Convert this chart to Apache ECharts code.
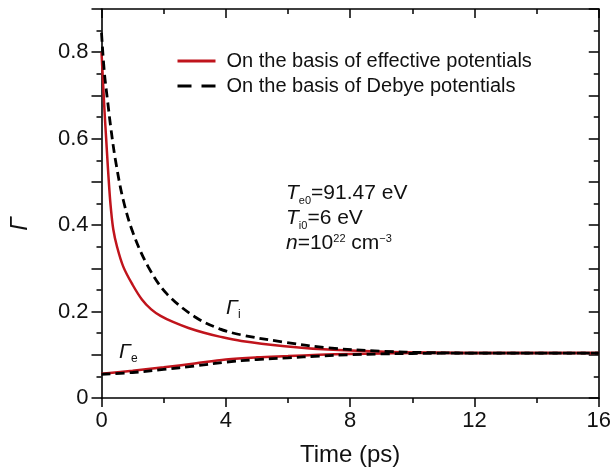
<!DOCTYPE html>
<html><head><meta charset="utf-8">
<script src="https://cdn.jsdelivr.net/npm/echarts@6/dist/echarts.min.js"></script>
<style>html,body{margin:0;padding:0;background:#fff}#c{width:614px;height:476px}</style>
</head><body><div id="c"></div>
<script>
const FONT = "'Liberation Sans', Arial, Helvetica, sans-serif";
const yTickLabels = ['0', '0.2', '0.4', '0.6', '0.8'];
const legendNames = ['On the basis of effective potentials', 'On the basis of Debye potentials'];

// Gamma_i, effective potentials (red)
const tEffI = [0, 0.05, 0.1, 0.15, 0.2, 0.25, 0.3, 0.38, 0.5, 0.7, 1.0, 1.3, 1.6, 1.9, 2.3, 2.8, 3.3, 3.8, 4.5, 5.9, 7.3, 9.1, 10.5, 12, 14, 16];
const gEffI = [0.80, 0.73, 0.66, 0.60, 0.54, 0.485, 0.44, 0.39, 0.35, 0.304, 0.262, 0.228, 0.205, 0.19, 0.176, 0.162, 0.151, 0.142, 0.132, 0.120, 0.112, 0.107, 0.105, 0.104, 0.104, 0.104];
// Gamma_i, Debye potentials (dashed)
const tDebI = [0, 0.09, 0.2, 0.3, 0.45, 0.7, 1.02, 1.5, 2.09, 3.0, 3.8, 4.5, 5.9, 7.3, 9.1, 10.5, 12, 14, 16];
const gDebI = [0.845, 0.755, 0.685, 0.625, 0.55, 0.458, 0.381, 0.304, 0.242, 0.188, 0.160, 0.146, 0.129, 0.116, 0.108, 0.105, 0.104, 0.104, 0.104];
// Gamma_e
const tE = [0, 1, 2, 3, 4, 5, 6, 7, 8, 9, 10, 12, 14, 16];
const gEffE = [0.056, 0.063, 0.071, 0.080, 0.089, 0.094, 0.097, 0.100, 0.102, 0.103, 0.104, 0.104, 0.104, 0.104];
const gDebE = [0.055, 0.059, 0.066, 0.074, 0.083, 0.089, 0.093, 0.097, 0.100, 0.102, 0.103, 0.104, 0.104, 0.104];

const zip = (a, b) => a.map((v, i) => [v, b[i]]);
const RED = '#c0141c';

const chart = echarts.init(document.getElementById('c'), null, {renderer: 'canvas'});
const axisLine = {show: true, onZero: false, lineStyle: {color: '#000', width: 1.6}};
const xCommon = {type: 'value', min: 0, max: 16, interval: 4, splitLine: {show: false}, axisLine: axisLine,
  minorTick: {show: true, splitNumber: 2, length: 5, lineStyle: {color: '#000', width: 1.5}}};
const yCommon = {type: 'value', min: 0, max: 0.9, interval: 0.1, splitLine: {show: false}, axisLine: axisLine,
  minorTick: {show: true, splitNumber: 2, length: 5, lineStyle: {color: '#000', width: 1.5}}};

const option = {
  animation: false,
  backgroundColor: '#fff',
  grid: {left: 101.5, right: 12.5, top: 9, bottom: 78, containLabel: false},
  xAxis: [
    Object.assign({}, xCommon, {position: 'bottom',
      axisTick: {show: true, inside: false, length: 9, lineStyle: {color: '#000', width: 1.5}},
      axisLabel: {show: true, color: '#111', fontSize: 22, fontFamily: FONT, margin: 12},
      name: 'Time (ps)', nameLocation: 'middle', nameGap: 45,
      nameTextStyle: {color: '#111', fontSize: 24, fontFamily: FONT}}),
    Object.assign({}, xCommon, {position: 'top',
      axisTick: {show: true, inside: true, length: 9, lineStyle: {color: '#000', width: 1.5}},
      axisLabel: {show: false}})
  ],
  yAxis: [
    Object.assign({}, yCommon, {position: 'left',
      axisTick: {show: true, inside: false, length: 10, lineStyle: {color: '#000', width: 1.5}},
      axisLabel: {show: true, color: '#111', fontSize: 22, fontFamily: FONT, margin: 13,
        formatter: v => { const r = Math.round(v * 10); return r % 2 === 0 ? (yTickLabels[r / 2] || '') : ''; }}}),
    Object.assign({}, yCommon, {position: 'right',
      axisTick: {show: true, inside: true, length: 10, lineStyle: {color: '#000', width: 1.5}},
      axisLabel: {show: false}})
  ],
  legend: {
    orient: 'vertical', left: 171, top: 46, itemWidth: 38, itemHeight: 14, itemGap: 5,
    textStyle: {color: '#111', fontSize: 20, fontFamily: FONT, padding: [0, 0, 0, 6]},
    data: [
      {name: legendNames[0], lineStyle: {color: RED, width: 3, type: 'solid'}, itemStyle: {opacity: 0}},
      {name: legendNames[1], lineStyle: {color: '#000', width: 3, type: [14, 10]}, itemStyle: {opacity: 0}}
    ]
  },
  series: [
    {name: legendNames[0], type: 'line', data: zip(tEffI, gEffI), symbol: 'none', smooth: 0.35,
      lineStyle: {color: RED, width: 2.5}, itemStyle: {color: RED}, z: 2},
    {name: legendNames[0], type: 'line', data: zip(tE, gEffE), symbol: 'none', smooth: 0.35,
      lineStyle: {color: RED, width: 2.5}, itemStyle: {color: RED}, z: 2},
    {name: legendNames[1], type: 'line', data: zip(tDebI, gDebI), symbol: 'none', smooth: 0.35,
      lineStyle: {color: '#000', width: 2.8, type: [9, 5]}, itemStyle: {color: '#000'}, z: 3},
    {name: legendNames[1], type: 'line', data: zip(tE, gDebE), symbol: 'none', smooth: 0.35,
      lineStyle: {color: '#000', width: 2.8, type: [9, 5]}, itemStyle: {color: '#000'}, z: 3}
  ],
  graphic: [
    {type: 'text', x: 20, y: 224, rotation: Math.PI / 2, style: {text: 'Γ', fill: '#111',
      font: 'italic 24px ' + FONT, align: 'center', verticalAlign: 'middle', textAlign: 'center', textVerticalAlign: 'middle'}},
    {type: 'text', left: 286, top: 183, style: {
      text: '{it|T}{sub|e0}{n|=91.47 eV}\n{it|T}{sub|i0}{n|=6 eV}\n{it|n}{n|=10}{sup|22}{n| cm}{sup|−3}',
      fill: '#111', font: '21px ' + FONT,
      rich: {
        it: {fontStyle: 'italic', fontSize: 21, fontFamily: FONT, lineHeight: 25, verticalAlign: 'middle', fill: '#111'},
        n: {fontSize: 21, fontFamily: FONT, lineHeight: 25, verticalAlign: 'middle', fill: '#111'},
        sub: {fontSize: 11, fontFamily: FONT, verticalAlign: 'bottom', fill: '#111'},
        sup: {fontSize: 11, fontFamily: FONT, verticalAlign: 'top', fill: '#111', padding: [2, 0, 0, 0]}
      }}},
    {type: 'text', left: 226, top: 298, style: {
      text: '{g|Γ}{s|i}', rich: {
        g: {fontStyle: 'italic', fontSize: 21, fontFamily: FONT, lineHeight: 24, verticalAlign: 'middle', fill: '#111'},
        s: {fontSize: 12, fontFamily: FONT, verticalAlign: 'bottom', fill: '#111'}}}},
    {type: 'text', left: 119, top: 342, style: {
      text: '{g|Γ}{s|e}', rich: {
        g: {fontStyle: 'italic', fontSize: 21, fontFamily: FONT, lineHeight: 24, verticalAlign: 'middle', fill: '#111'},
        s: {fontSize: 12, fontFamily: FONT, verticalAlign: 'bottom', fill: '#111'}}}}
  ]
};
chart.setOption(option);
</script>
</body></html>
